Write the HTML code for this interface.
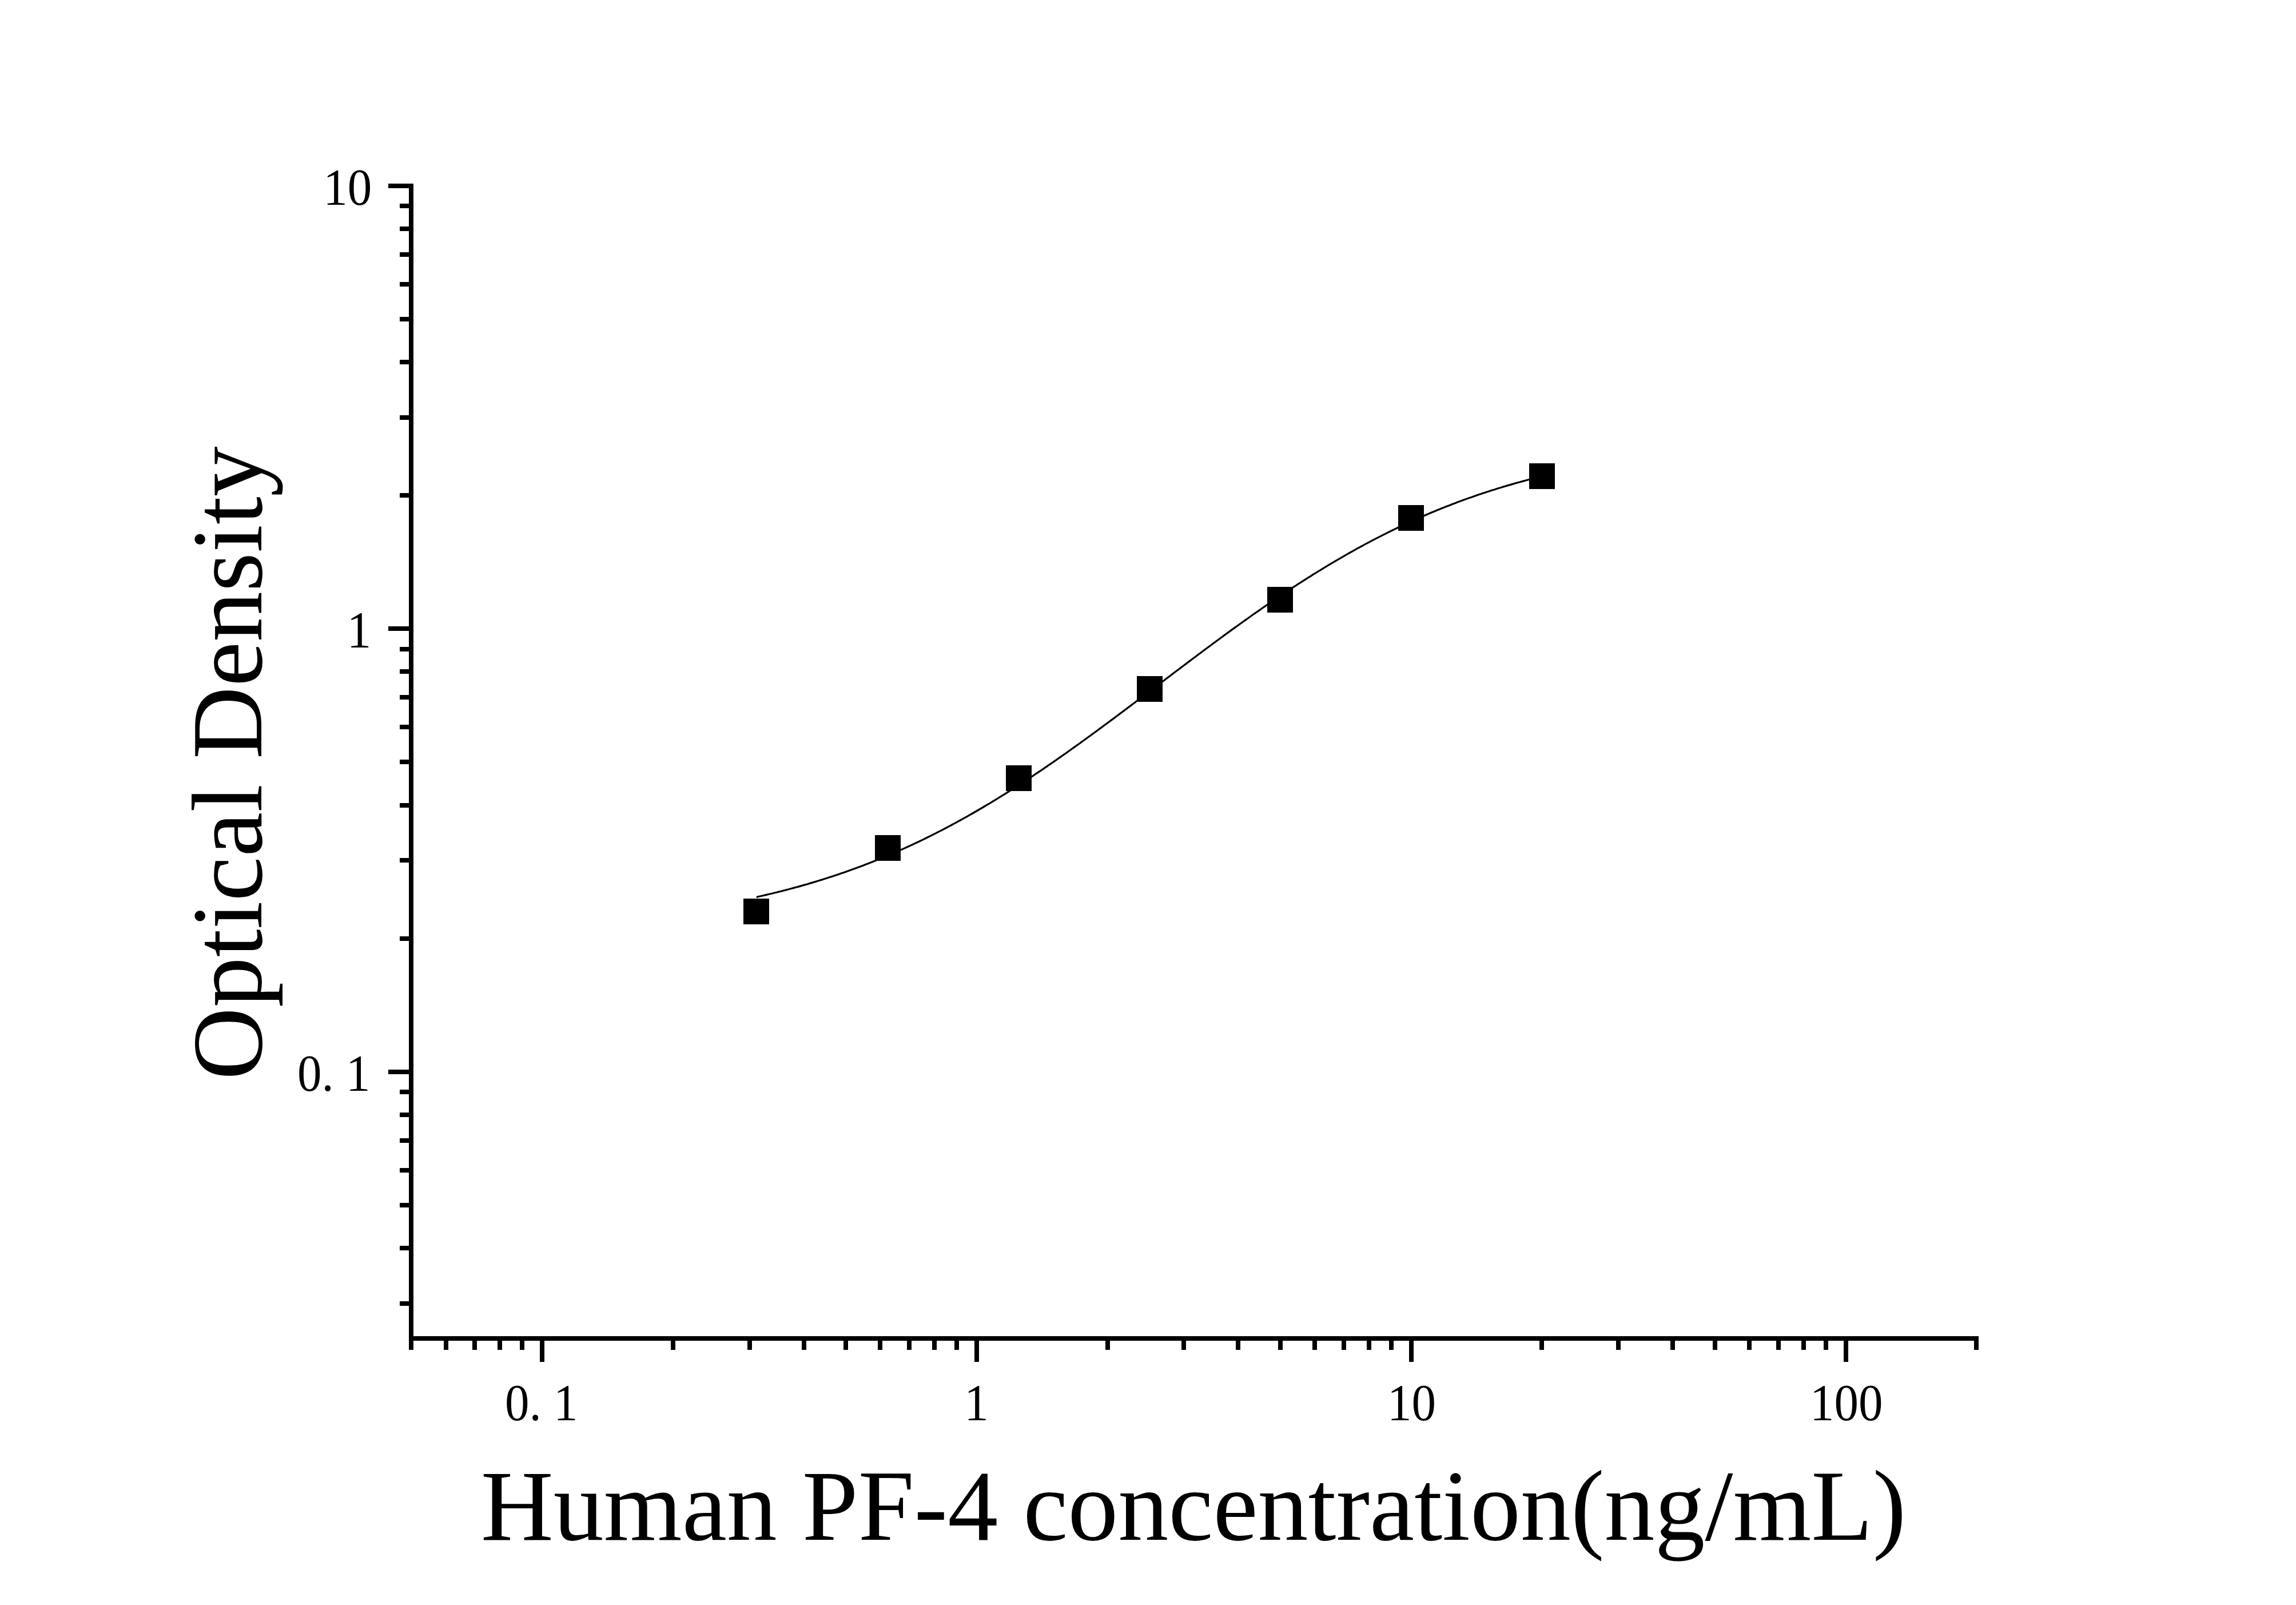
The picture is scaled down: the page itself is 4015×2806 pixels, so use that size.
<!DOCTYPE html>
<html><head><meta charset="utf-8"><title>Human PF-4 standard curve</title>
<style>html,body{margin:0;padding:0;background:#fff;}svg{display:block;}</style></head>
<body>
<svg width="4015" height="2806" viewBox="0 0 4015 2806" font-family="'Liberation Serif','Times New Roman',serif" fill="#000">
<rect width="4015" height="2806" fill="#fff"/>
<rect x="715" y="321" width="8" height="2023"/>
<rect x="715" y="2336" width="2745" height="8"/>
<rect x="699" y="2275" width="20" height="8"/>
<rect x="699" y="2178" width="20" height="8"/>
<rect x="699" y="2103" width="20" height="8"/>
<rect x="699" y="2042" width="20" height="8"/>
<rect x="699" y="1990" width="20" height="8"/>
<rect x="699" y="1945" width="20" height="8"/>
<rect x="699" y="1905" width="20" height="8"/>
<rect x="679" y="1870" width="40" height="8"/>
<rect x="699" y="1637" width="20" height="8"/>
<rect x="699" y="1500" width="20" height="8"/>
<rect x="699" y="1404" width="20" height="8"/>
<rect x="699" y="1328" width="20" height="8"/>
<rect x="699" y="1267" width="20" height="8"/>
<rect x="699" y="1215" width="20" height="8"/>
<rect x="699" y="1170" width="20" height="8"/>
<rect x="699" y="1131" width="20" height="8"/>
<rect x="679" y="1095" width="40" height="8"/>
<rect x="699" y="862" width="20" height="8"/>
<rect x="699" y="726" width="20" height="8"/>
<rect x="699" y="629" width="20" height="8"/>
<rect x="699" y="554" width="20" height="8"/>
<rect x="699" y="493" width="20" height="8"/>
<rect x="699" y="441" width="20" height="8"/>
<rect x="699" y="396" width="20" height="8"/>
<rect x="699" y="356" width="20" height="8"/>
<rect x="679" y="321" width="40" height="8"/>
<rect x="715" y="2340" width="8" height="20"/>
<rect x="776" y="2340" width="8" height="20"/>
<rect x="826" y="2340" width="8" height="20"/>
<rect x="870" y="2340" width="8" height="20"/>
<rect x="909" y="2340" width="8" height="20"/>
<rect x="944" y="2340" width="8" height="41"/>
<rect x="1173" y="2340" width="8" height="20"/>
<rect x="1307" y="2340" width="8" height="20"/>
<rect x="1402" y="2340" width="8" height="20"/>
<rect x="1475" y="2340" width="8" height="20"/>
<rect x="1535" y="2340" width="8" height="20"/>
<rect x="1586" y="2340" width="8" height="20"/>
<rect x="1630" y="2340" width="8" height="20"/>
<rect x="1669" y="2340" width="8" height="20"/>
<rect x="1704" y="2340" width="8" height="41"/>
<rect x="1933" y="2340" width="8" height="20"/>
<rect x="2066" y="2340" width="8" height="20"/>
<rect x="2161" y="2340" width="8" height="20"/>
<rect x="2235" y="2340" width="8" height="20"/>
<rect x="2295" y="2340" width="8" height="20"/>
<rect x="2346" y="2340" width="8" height="20"/>
<rect x="2390" y="2340" width="8" height="20"/>
<rect x="2429" y="2340" width="8" height="20"/>
<rect x="2464" y="2340" width="8" height="41"/>
<rect x="2692" y="2340" width="8" height="20"/>
<rect x="2826" y="2340" width="8" height="20"/>
<rect x="2921" y="2340" width="8" height="20"/>
<rect x="2995" y="2340" width="8" height="20"/>
<rect x="3055" y="2340" width="8" height="20"/>
<rect x="3106" y="2340" width="8" height="20"/>
<rect x="3150" y="2340" width="8" height="20"/>
<rect x="3189" y="2340" width="8" height="20"/>
<rect x="3224" y="2340" width="8" height="41"/>
<rect x="3452" y="2340" width="8" height="20"/>
<polyline points="1324.1,1568.1 1327.5,1567.3 1331.0,1566.5 1334.4,1565.7 1337.8,1564.9 1341.3,1564.1 1344.7,1563.3 1348.2,1562.5 1351.6,1561.7 1355.0,1560.8 1358.5,1560.0 1361.9,1559.1 1365.4,1558.3 1368.8,1557.4 1372.2,1556.5 1375.7,1555.6 1379.1,1554.7 1382.6,1553.8 1386.0,1552.9 1389.4,1551.9 1392.9,1551.0 1396.3,1550.1 1399.8,1549.1 1403.2,1548.1 1406.6,1547.1 1410.1,1546.2 1413.5,1545.2 1417.0,1544.1 1420.4,1543.1 1423.8,1542.1 1427.3,1541.1 1430.7,1540.0 1434.1,1538.9 1437.6,1537.9 1441.0,1536.8 1444.5,1535.7 1447.9,1534.6 1451.3,1533.5 1454.8,1532.4 1458.2,1531.2 1461.7,1530.1 1465.1,1528.9 1468.5,1527.8 1472.0,1526.6 1475.4,1525.4 1478.9,1524.2 1482.3,1523.0 1485.7,1521.8 1489.2,1520.5 1492.6,1519.3 1496.1,1518.0 1499.5,1516.8 1502.9,1515.5 1506.4,1514.2 1509.8,1512.9 1513.3,1511.6 1516.7,1510.3 1520.1,1508.9 1523.6,1507.6 1527.0,1506.2 1530.5,1504.8 1533.9,1503.5 1537.3,1502.1 1540.8,1500.7 1544.2,1499.2 1547.7,1497.8 1551.1,1496.4 1554.5,1494.9 1558.0,1493.4 1561.4,1492.0 1564.8,1490.5 1568.3,1489.0 1571.7,1487.5 1575.2,1485.9 1578.6,1484.4 1582.0,1482.9 1585.5,1481.3 1588.9,1479.7 1592.4,1478.1 1595.8,1476.5 1599.2,1474.9 1602.7,1473.3 1606.1,1471.7 1609.6,1470.0 1613.0,1468.4 1616.4,1466.7 1619.9,1465.0 1623.3,1463.3 1626.8,1461.6 1630.2,1459.9 1633.6,1458.1 1637.1,1456.4 1640.5,1454.6 1644.0,1452.9 1647.4,1451.1 1650.8,1449.3 1654.3,1447.5 1657.7,1445.7 1661.2,1443.9 1664.6,1442.0 1668.0,1440.2 1671.5,1438.3 1674.9,1436.4 1678.3,1434.5 1681.8,1432.6 1685.2,1430.7 1688.7,1428.8 1692.1,1426.9 1695.5,1424.9 1699.0,1423.0 1702.4,1421.0 1705.9,1419.0 1709.3,1417.0 1712.7,1415.0 1716.2,1413.0 1719.6,1411.0 1723.1,1408.9 1726.5,1406.9 1729.9,1404.8 1733.4,1402.8 1736.8,1400.7 1740.3,1398.6 1743.7,1396.5 1747.1,1394.4 1750.6,1392.2 1754.0,1390.1 1757.5,1387.9 1760.9,1385.8 1764.3,1383.6 1767.8,1381.4 1771.2,1379.3 1774.7,1377.1 1778.1,1374.8 1781.5,1372.6 1785.0,1370.4 1788.4,1368.2 1791.9,1365.9 1795.3,1363.7 1798.7,1361.4 1802.2,1359.1 1805.6,1356.8 1809.0,1354.5 1812.5,1352.2 1815.9,1349.9 1819.4,1347.6 1822.8,1345.3 1826.2,1342.9 1829.7,1340.6 1833.1,1338.2 1836.6,1335.9 1840.0,1333.5 1843.4,1331.1 1846.9,1328.7 1850.3,1326.3 1853.8,1323.9 1857.2,1321.5 1860.6,1319.1 1864.1,1316.7 1867.5,1314.2 1871.0,1311.8 1874.4,1309.3 1877.8,1306.9 1881.3,1304.4 1884.7,1302.0 1888.2,1299.5 1891.6,1297.0 1895.0,1294.5 1898.5,1292.0 1901.9,1289.5 1905.4,1287.0 1908.8,1284.5 1912.2,1282.0 1915.7,1279.5 1919.1,1276.9 1922.5,1274.4 1926.0,1271.9 1929.4,1269.3 1932.9,1266.8 1936.3,1264.3 1939.7,1261.7 1943.2,1259.1 1946.6,1256.6 1950.1,1254.0 1953.5,1251.4 1956.9,1248.9 1960.4,1246.3 1963.8,1243.7 1967.3,1241.1 1970.7,1238.6 1974.1,1236.0 1977.6,1233.4 1981.0,1230.8 1984.5,1228.2 1987.9,1225.6 1991.3,1223.0 1994.8,1220.4 1998.2,1217.8 2001.7,1215.2 2005.1,1212.6 2008.5,1210.0 2012.0,1207.4 2015.4,1204.8 2018.9,1202.2 2022.3,1199.6 2025.7,1197.0 2029.2,1194.4 2032.6,1191.8 2036.1,1189.2 2039.5,1186.6 2042.9,1184.0 2046.4,1181.4 2049.8,1178.8 2053.2,1176.1 2056.7,1173.5 2060.1,1171.0 2063.6,1168.4 2067.0,1165.8 2070.4,1163.2 2073.9,1160.6 2077.3,1158.0 2080.8,1155.4 2084.2,1152.8 2087.6,1150.2 2091.1,1147.7 2094.5,1145.1 2098.0,1142.5 2101.4,1139.9 2104.8,1137.4 2108.3,1134.8 2111.7,1132.3 2115.2,1129.7 2118.6,1127.2 2122.0,1124.6 2125.5,1122.1 2128.9,1119.5 2132.4,1117.0 2135.8,1114.5 2139.2,1111.9 2142.7,1109.4 2146.1,1106.9 2149.6,1104.4 2153.0,1101.9 2156.4,1099.4 2159.9,1096.9 2163.3,1094.5 2166.7,1092.0 2170.2,1089.5 2173.6,1087.0 2177.1,1084.6 2180.5,1082.1 2183.9,1079.7 2187.4,1077.3 2190.8,1074.8 2194.3,1072.4 2197.7,1070.0 2201.1,1067.6 2204.6,1065.2 2208.0,1062.8 2211.5,1060.4 2214.9,1058.0 2218.3,1055.7 2221.8,1053.3 2225.2,1051.0 2228.7,1048.6 2232.1,1046.3 2235.5,1044.0 2239.0,1041.7 2242.4,1039.3 2245.9,1037.1 2249.3,1034.8 2252.7,1032.5 2256.2,1030.2 2259.6,1028.0 2263.1,1025.7 2266.5,1023.5 2269.9,1021.2 2273.4,1019.0 2276.8,1016.8 2280.3,1014.6 2283.7,1012.4 2287.1,1010.2 2290.6,1008.1 2294.0,1005.9 2297.4,1003.7 2300.9,1001.6 2304.3,999.5 2307.8,997.4 2311.2,995.3 2314.6,993.2 2318.1,991.1 2321.5,989.0 2325.0,986.9 2328.4,984.9 2331.8,982.8 2335.3,980.8 2338.7,978.8 2342.2,976.8 2345.6,974.8 2349.0,972.8 2352.5,970.8 2355.9,968.9 2359.4,966.9 2362.8,965.0 2366.2,963.1 2369.7,961.1 2373.1,959.2 2376.6,957.3 2380.0,955.5 2383.4,953.6 2386.9,951.7 2390.3,949.9 2393.8,948.1 2397.2,946.2 2400.6,944.4 2404.1,942.6 2407.5,940.9 2410.9,939.1 2414.4,937.3 2417.8,935.6 2421.3,933.8 2424.7,932.1 2428.1,930.4 2431.6,928.7 2435.0,927.0 2438.5,925.4 2441.9,923.7 2445.3,922.0 2448.8,920.4 2452.2,918.8 2455.7,917.2 2459.1,915.6 2462.5,914.0 2466.0,912.4 2469.4,910.8 2472.9,909.3 2476.3,907.7 2479.7,906.2 2483.2,904.7 2486.6,903.2 2490.1,901.7 2493.5,900.2 2496.9,898.7 2500.4,897.3 2503.8,895.8 2507.3,894.4 2510.7,893.0 2514.1,891.6 2517.6,890.2 2521.0,888.8 2524.5,887.4 2527.9,886.0 2531.3,884.7 2534.8,883.4 2538.2,882.0 2541.6,880.7 2545.1,879.4 2548.5,878.1 2552.0,876.8 2555.4,875.6 2558.8,874.3 2562.3,873.1 2565.7,871.8 2569.2,870.6 2572.6,869.4 2576.0,868.2 2579.5,867.0 2582.9,865.8 2586.4,864.6 2589.8,863.5 2593.2,862.3 2596.7,861.2 2600.1,860.1 2603.6,859.0 2607.0,857.8 2610.4,856.8 2613.9,855.7 2617.3,854.6 2620.8,853.5 2624.2,852.5 2627.6,851.4 2631.1,850.4 2634.5,849.4 2638.0,848.4 2641.4,847.4 2644.8,846.4 2648.3,845.4 2651.7,844.4 2655.1,843.5 2658.6,842.5 2662.0,841.6 2665.5,840.6 2668.9,839.7 2672.3,838.8 2675.8,837.9 2679.2,837.0 2682.7,836.1 2686.1,835.2 2689.5,834.4 2693.0,833.5 2696.4,832.7" fill="none" stroke="#000" stroke-width="3.2" stroke-linejoin="round" stroke-linecap="round"/>
<rect x="1300" y="1571" width="45" height="45"/>
<rect x="1530" y="1460" width="45" height="45"/>
<rect x="1759" y="1338" width="45" height="45"/>
<rect x="1988" y="1182" width="45" height="45"/>
<rect x="2216" y="1026" width="45" height="45"/>
<rect x="2445" y="883" width="45" height="45"/>
<rect x="2674" y="810" width="45" height="45"/>
<text transform="translate(607.70,358) scale(0.945,1)" font-size="90" text-anchor="middle">10</text>
<text transform="translate(628.10,1132) scale(0.945,1)" font-size="90" text-anchor="middle">1</text>
<text transform="translate(583.80,1907) scale(0.945,1)" font-size="90" text-anchor="middle">0. 1</text>
<text transform="translate(946.80,2483) scale(0.945,1)" font-size="90" text-anchor="middle">0. 1</text>
<text transform="translate(1707.40,2483) scale(0.945,1)" font-size="90" text-anchor="middle">1</text>
<text transform="translate(2468.60,2483) scale(0.945,1)" font-size="90" text-anchor="middle">10</text>
<text transform="translate(3228.80,2483) scale(0.945,1)" font-size="90" text-anchor="middle">100</text>
<text x="840.7" y="2692" font-size="176">Human PF-4 concentration(ng/mL)</text>
<text transform="translate(457,1888.0) rotate(-90)" font-size="175.7">Optical Density</text>
</svg>
</body></html>
